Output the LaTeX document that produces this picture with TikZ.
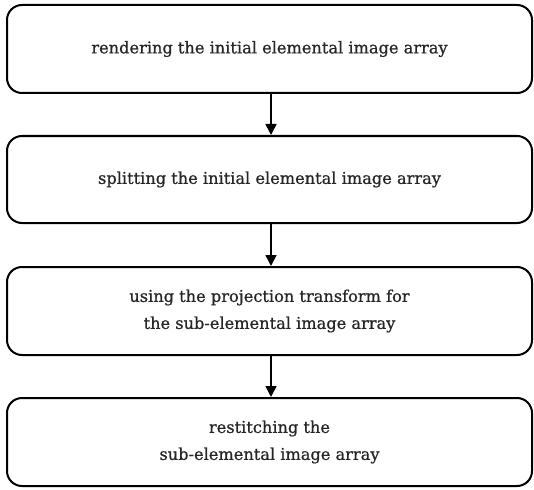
\documentclass[tikz,border=0pt]{standalone}
\usepackage{fontspec}
\newfontfamily\stepfont[FakeBold=0.8]{DejaVu Serif}
\usetikzlibrary{arrows.meta}
\begin{document}
\begin{tikzpicture}[x=1pt,y=-1pt,
  stepbox/.style={draw, line width=2pt, rounded corners=15pt, minimum width=525pt, align=center,
    text=black!85, font=\stepfont\fontsize{16.2}{27}\selectfont, inner sep=0pt},
  flow/.style={draw, line width=1.6pt, -{Triangle[length=11pt,width=11pt]}}]
\useasboundingbox (0,0) rectangle (534,489);
\node[stepbox, minimum height=88pt] (s1) at (269.5,49) {rendering the initial elemental image array};
\node[stepbox, minimum height=87pt] (s2) at (269.5,179.5) {splitting the initial elemental image array};
\node[stepbox, minimum height=88pt] (s3) at (269.5,311) {using the projection transform for\\the sub-elemental image array};
\node[stepbox, minimum height=88pt] (s4) at (269.5,442) {restitching the\\sub-elemental image array};
\draw[flow] (s1.south -| 271,0) -- (s2.north -| 271,0);
\draw[flow] (s2.south -| 271,0) -- (s3.north -| 271,0);
\draw[flow] (s3.south -| 271,0) -- (s4.north -| 271,0);
\end{tikzpicture}
\end{document}
